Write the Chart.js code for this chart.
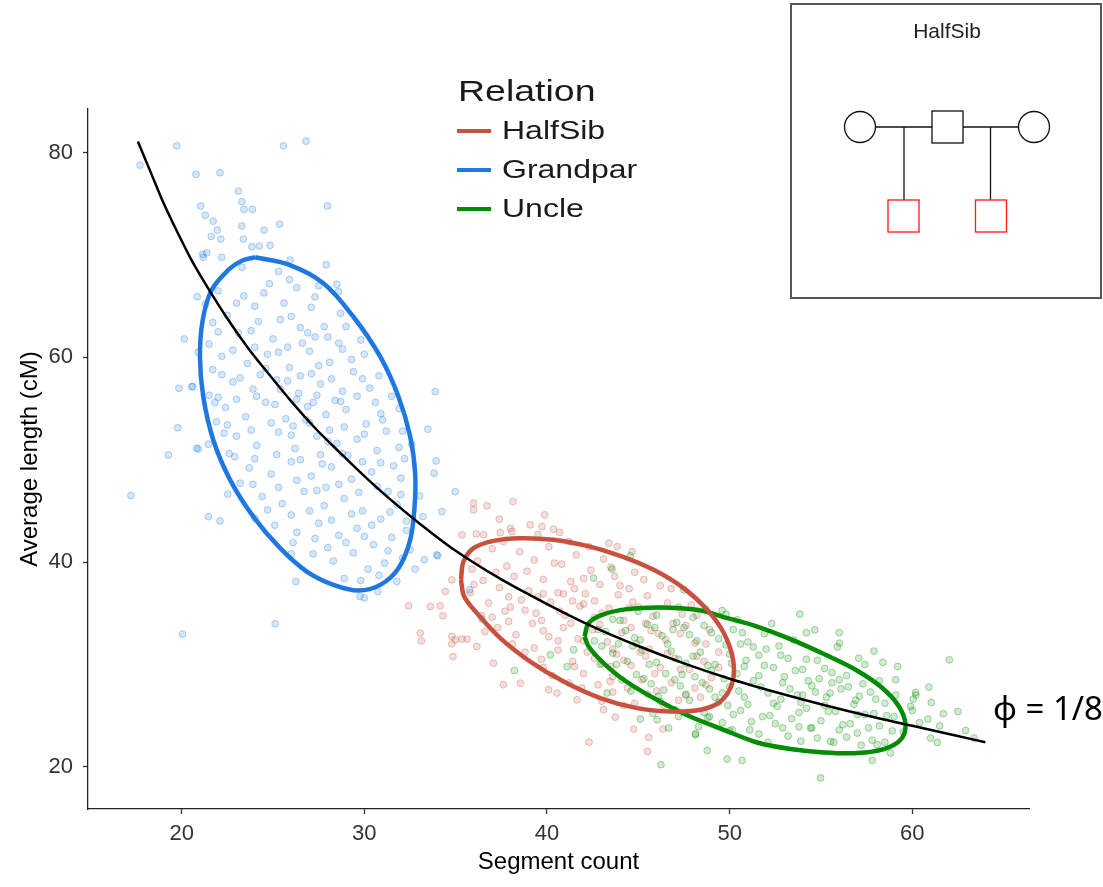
<!DOCTYPE html>
<html>
<head>
<meta charset="utf-8">
<script src="https://cdn.jsdelivr.net/npm/chart.js@4.4.0/dist/chart.umd.min.js"></script>
<style>
  html, body { margin: 0; padding: 0; background: #fff; }
</style>
</head>
<body>
<canvas id="chart" width="1103" height="887"></canvas>
<script>
// axis ticks
const xTicks = [20, 30, 40, 50, 60];
const yTicks = [20, 40, 60, 80];
const relations = ['HalfSib', 'Grandpar', 'Uncle'];

// scatter points: [segment count, average length]
const grandparPts = [
  [17.72,78.79],[19.73,80.67],[25.57,80.67],[26.81,81.13],[20.78,77.88],[22.10,78.04],[23.10,76.25],[23.29,75.21],
  [23.41,74.46],[23.87,74.46],[21.04,74.79],[21.29,73.88],[21.72,73.32],[21.95,72.44],[21.62,71.82],[22.14,71.56],
  [23.29,72.83],[24.51,72.44],[25.35,73.03],[27.98,74.79],[23.38,71.56],[23.84,70.81],[24.25,70.88],[24.84,70.95],
  [21.15,70.07],[21.37,70.22],[27.91,69.05],[25.93,69.51],[28.49,67.14],[28.58,66.42],[20.85,65.93],[22.19,69.78],
  [21.18,69.78],[20.14,61.80],[20.60,57.14],[19.85,56.98],[20.55,57.14],[21.82,55.58],[19.78,53.13],[20.91,51.05],
  [21.46,51.51],[20.82,51.12],[19.27,50.47],[22.32,52.59],[22.52,46.63],[21.46,44.44],[22.10,44.02],[17.22,46.50],
  [20.05,32.96],[25.12,33.96],
  [33.88,56.65],[33.48,52.98],[33.93,49.88],[33.82,48.68],[33.02,46.46],[33.21,44.44],[33.97,40.70],[32.78,39.31],
  [34.98,46.88],[34.25,44.93],[34.01,40.61],[33.28,40.22],[35.76,37.29],[36.44,34.42],
  [29.77,36.63],[26.25,38.10],[31.78,38.10],[30.74,37.12],
  [22.5,64.1],[23.4,66.0],[24.8,67.2],[25.6,65.3],[26.3,66.8],[27.1,64.9],[23.1,62.4],[24.2,63.5],[25.0,61.8],
  [26.5,62.9],[27.8,63.0],[28.6,61.4],[22.2,60.1],[23.6,59.4],[24.7,60.3],[25.9,59.0],[27.0,60.6],[28.1,59.5],
  [29.3,59.8],[22.8,57.6],[23.9,56.9],[25.2,57.8],[26.4,56.5],[27.6,57.4],[28.8,56.7],[29.9,57.9],[30.6,55.6],
  [22.4,55.1],[23.5,54.2],[24.6,55.6],[25.7,54.0],[26.9,55.2],[27.9,54.4],[29.0,54.9],[30.1,53.5],[31.2,52.8],
  [23.0,52.3],[24.1,51.4],[25.3,52.7],[26.2,51.1],[27.4,52.3],[28.5,51.6],[29.6,52.0],[30.7,50.9],[31.6,49.4],
  [23.7,49.2],[24.9,48.6],[26.0,49.8],[27.1,48.4],[28.2,49.3],[29.3,48.1],[30.4,48.8],[31.3,46.9],[24.4,46.4],
  [25.5,45.7],[26.7,46.9],[27.8,45.5],[28.9,46.2],[29.9,45.0],[30.9,44.2],[31.8,45.6],[25.1,43.6],[26.3,42.9],
  [27.5,43.8],[28.6,42.6],[29.6,43.3],[30.5,41.7],[31.5,42.4],[27.2,40.8],[28.3,40.1],[29.4,40.9],[30.2,39.3],
  [31.1,39.9],[28.9,38.4],[26.8,53.9],[27.2,55.6],[28.1,52.9],[27.6,50.5],[26.5,58.2],[25.4,56.9],[28.4,55.8],
  [27.9,47.3],[29.1,50.4],[26.1,53.3],[24.3,58.3],[25.8,61.0],[27.3,62.0],[24.0,65.0],[26.0,64.0],[22.0,62.5],
  [21.7,58.8],[21.5,56.3],[22.6,50.6],[23.2,47.7],[32.0,48.2],[32.3,44.0],[32.6,51.5],[31.9,55.0],[30.8,58.2],
  [29.8,61.7],[28.7,64.3],[27.5,67.0],[25.3,68.4],[23.3,68.8],[21.3,65.2],[20.9,60.5],[21.9,53.7],[24.0,44.3],
  [26.0,40.8],[32.5,41.2],[30.0,36.5],
  [22.0,66.5],[24.5,66.3],[25.9,67.6],[27.3,65.9],[23.0,65.3],[21.7,63.4],[23.8,62.6],[25.4,63.7],[26.9,62.4],
  [28.0,62.0],[29.0,63.0],[21.5,61.3],[22.8,60.7],[24.0,61.0],[25.3,60.5],[26.6,61.4],[27.5,59.2],[28.8,60.8],
  [30.0,60.3],[22.2,58.3],[23.2,58.0],[24.6,58.9],[25.8,57.7],[27.1,58.4],[28.2,57.9],[29.4,58.6],[30.3,57.0],
  [22.0,56.1],[23.0,55.9],[24.1,56.2],[25.1,55.4],[26.3,55.9],[27.4,56.3],[28.7,55.7],[29.6,56.2],[30.9,54.5],
  [31.5,56.2],[22.5,53.4],[23.8,52.9],[24.9,53.6],[26.0,52.4],[27.0,53.6],[28.0,51.8],[28.9,53.2],[30.0,52.5],
  [31.0,53.9],[32.1,52.8],[31.9,51.2],[22.9,50.3],[24.0,50.1],[25.2,50.5],[26.5,50.0],[27.7,49.6],[28.8,50.6],
  [29.9,49.8],[30.9,49.7],[32.2,50.1],[23.9,47.6],[25.3,47.3],[26.3,48.0],[27.4,47.0],[28.6,47.6],[29.7,46.8],
  [30.7,47.4],[32.0,46.6],[24.7,45.1],[26.0,44.6],[27.0,45.0],[28.2,44.1],[29.3,44.7],[30.4,43.6],[31.4,44.9],
  [32.3,43.1],[26.1,41.9],[27.3,42.3],[28.0,41.4],[29.0,41.9],[30.0,42.5],[31.3,41.1],[32.1,40.4],[29.8,38.2],
  [30.8,38.7]
];

const halfSibPts = [
  [35.98,45.75],[36.71,45.49],[38.14,45.91],[35.98,45.10],[39.87,44.61],[37.39,44.19],[39.08,43.63],[39.73,43.47],
  [40.36,43.21],[37.44,42.88],[38.08,42.98],[35.34,42.66],[36.13,42.75],[36.53,42.66],[34.79,38.26],[34.43,37.12],
  [33.61,35.65],[34.15,35.72],[34.30,34.75],[33.06,33.06],[34.79,32.73],[34.79,32.01],[35.34,32.47],[35.62,32.47],
  [34.85,30.77],[36.16,31.75],[37.07,30.13],[37.62,28.01],[38.54,28.17],[40.09,27.52],[40.55,27.20],[41.64,26.54],
  [43.10,25.57],[43.74,24.85],[43.46,28.33],[44.75,23.68],[45.57,22.86],[46.35,23.68],[43.38,41.85],[43.84,41.51],
  [44.66,41.03],[32.42,35.72],[33.12,32.30],[34.98,32.40],[45.5,21.5],[42.3,22.4],
  [36.2,40.1],[37.0,41.3],[37.8,39.6],[38.5,41.0],[39.3,40.2],[40.1,41.5],[40.8,39.8],[41.6,40.7],[42.4,39.2],
  [43.1,40.3],[36.5,38.2],[37.4,37.5],[38.2,38.6],[39.0,37.2],[39.8,38.3],[40.6,37.0],[41.3,38.1],[42.1,36.9],
  [42.9,37.8],[43.7,38.6],[44.5,37.4],[45.3,38.3],[36.8,36.0],[37.7,35.2],[38.6,36.3],[39.4,35.0],[40.2,36.1],
  [41.0,34.8],[41.8,35.7],[42.6,34.6],[43.4,35.5],[44.2,34.3],[45.0,35.6],[45.8,34.7],[46.6,36.0],[47.4,34.9],
  [37.3,33.6],[38.3,32.9],[39.2,34.0],[40.1,32.7],[40.9,33.6],[41.7,32.5],[42.5,33.4],[43.3,32.2],[44.1,33.1],
  [44.9,32.0],[45.7,33.3],[46.5,32.4],[47.3,33.0],[48.1,32.1],[48.9,33.4],[38.8,31.2],[39.7,30.5],[40.6,31.4],
  [41.4,30.3],[42.2,31.2],[43.0,30.1],[43.8,31.0],[44.6,29.9],[45.4,30.8],[46.2,29.7],[47.0,30.6],[47.8,29.5],
  [48.6,30.3],[40.3,28.9],[41.2,28.2],[42.0,29.1],[42.8,28.0],[43.6,28.8],[44.4,27.7],[45.2,28.5],[46.0,27.4],
  [46.8,28.2],[47.6,27.1],[43.0,26.4],[44.8,26.2],[46.4,26.0],[48.4,26.8],[38.0,43.3],[39.5,42.7],[41.2,42.0],
  [35.8,37.0],[36.4,34.8],[42.0,35.9],[43.9,36.8],[41.5,37.4],[40.7,35.2],[44.7,36.1],[45.6,31.5],[43.5,29.8],
  [39.8,33.3],[38.0,35.6],[49.4,31.2],[49.0,28.7],[46.8,37.4],[47.9,35.8],
  [37.6,42.0],[40.7,42.9],[42.3,41.5],[35.9,39.3],[37.2,39.0],[38.9,39.1],[40.4,39.9],[42.0,38.4],[43.5,39.5],
  [44.8,39.0],[36.0,37.8],[37.9,36.6],[39.5,36.6],[40.9,36.9],[42.6,36.2],[44.0,37.7],[45.5,36.7],[46.2,37.7],
  [37.0,34.6],[38.8,35.3],[39.8,36.9],[41.4,36.2],[43.0,35.0],[44.5,35.5],[45.4,34.0],[46.9,34.0],[48.2,34.8],
  [36.6,33.2],[37.9,34.2],[39.7,34.3],[41.3,34.0],[42.9,33.9],[44.6,33.6],[46.1,33.0],[47.6,33.8],[48.7,32.0],
  [38.1,32.0],[39.3,31.6],[40.6,32.3],[42.0,32.3],[43.6,31.5],[45.1,31.2],[46.6,31.1],[48.2,30.8],[49.4,29.7],
  [39.8,29.7],[41.5,29.8],[42.6,30.6],[44.2,30.4],[45.9,29.1],[47.3,29.5],[48.7,28.0],[41.9,27.7],[43.6,27.3],
  [45.5,27.1],[47.2,26.5],[48.1,27.7],[44.2,26.0]
];

const unclePts = [
  [53.84,34.91],[54.66,33.38],[56.02,32.08],[57.07,30.61],[58.39,30.19],[62.03,30.45],[59.09,28.50],[60.91,27.78],
  [60.18,27.26],[60.05,26.61],[61.04,26.28],[61.70,25.18],[60.85,24.66],[59.91,25.89],[61.37,22.37],[62.92,23.54],
  [63.38,22.80],[58.81,21.34],[57.81,20.62],[54.98,18.90],[50.68,20.62],[49.86,20.75],[48.77,21.59],[48.13,23.22],
  [54.43,23.78],[55.52,22.47],[56.99,23.29],[58.08,22.15],[50.14,23.61],[46.24,20.20],[38.22,29.40],[44.56,40.61],
  [43.56,39.31],[42.55,38.43],[47.49,37.29],[48.67,35.40],[49.59,35.27],[50.41,34.36],[41.10,29.79],[41.46,31.43],
  [40.18,30.94],[43.29,27.20],[45.11,24.66],[46.03,24.59],[46.66,23.78],[48.13,23.12],
  [43.2,33.2],[44.0,34.3],[44.8,32.6],[45.5,33.9],[46.3,32.8],[47.1,34.1],[47.8,32.9],[48.6,33.8],[49.4,32.5],
  [50.2,33.4],[51.0,32.2],[51.9,33.0],[52.7,31.8],[53.5,32.4],[43.6,31.1],[44.4,30.3],[45.2,31.4],[46.0,30.2],
  [46.8,31.3],[47.6,30.1],[48.4,31.2],[49.2,30.0],[50.0,31.0],[50.8,29.8],[51.6,30.9],[52.4,29.7],[53.2,30.6],
  [54.0,29.5],[54.8,30.4],[55.6,29.2],[56.4,28.9],[44.9,29.0],[45.7,28.1],[46.5,29.1],[47.3,27.9],[48.1,28.8],
  [48.9,27.6],[49.7,28.6],[50.5,27.4],[51.3,28.4],[52.1,27.2],[52.9,28.2],[53.7,27.0],[54.5,27.9],[55.3,26.8],
  [56.1,27.6],[56.9,26.5],[57.7,27.3],[58.5,26.2],[46.2,26.4],[47.0,25.6],[47.8,26.5],[48.6,25.3],[49.4,26.3],
  [50.2,25.1],[51.0,26.1],[51.8,24.9],[52.6,25.9],[53.4,24.7],[54.2,25.7],[55.0,24.5],[55.8,25.4],[56.6,24.2],
  [57.4,25.1],[58.2,24.0],[59.0,24.9],[50.0,23.5],[51.6,23.2],[53.2,23.0],[54.8,22.8],[56.4,22.9],[57.8,22.6],
  [52.3,34.0],[54.2,33.1],[55.9,31.7],[57.4,30.0],[58.2,28.4],[59.1,27.0],[45.0,35.2],[47.2,35.6],[49.8,34.9],
  [44.6,27.4],[45.8,25.2],[48.3,23.9],[49.0,29.4],[50.4,29.1],[51.7,27.8],[52.8,26.6],[53.9,26.3],[54.7,27.3],
  [55.6,28.2],[50.9,30.4],[49.6,27.2],[48.0,30.8],[47.4,29.0],[46.4,27.5],[52.0,31.5],[53.0,28.8],[55.2,26.0],
  [56.8,26.1],[57.9,25.2],[60.0,25.5],[59.5,23.4],[43.9,32.0],[42.6,32.3],[42.9,30.0],[44.1,28.5],[48.8,24.8],
  [51.2,24.4],[53.8,23.9],[56.0,23.6],[46.9,33.4],[50.6,32.0],[44.7,31.8],[49.9,26.0],[54.3,28.4],[52.5,24.2],
  [43.6,34.4],[46.0,34.8],[48.0,34.6],[42.8,33.4],[44.3,33.3],[45.9,33.6],[47.5,33.6],[49.0,33.1],[50.7,33.1],
  [43.0,31.8],[45.1,32.4],[46.6,32.0],[48.2,32.3],[49.8,31.9],[51.3,31.7],[52.8,30.9],[54.2,30.5],[43.8,30.0],
  [45.6,30.0],[47.2,30.5],[48.8,29.9],[50.1,30.1],[51.9,29.9],[53.6,29.4],[55.2,29.6],[56.0,28.5],[45.3,28.6],
  [47.0,28.5],[48.5,28.2],[50.0,27.8],[51.6,28.9],[53.3,27.6],[54.9,28.6],[56.5,27.8],[57.3,28.1],[46.1,26.9],
  [47.6,27.0],[49.2,26.8],[50.8,26.8],[52.4,26.2],[54.0,27.0],[55.5,27.2],[57.1,26.9],[58.0,26.6],[47.2,24.9],
  [48.9,24.9],[50.6,25.5],[52.2,25.0],[53.8,25.3],[55.4,25.4],[57.0,25.1],[58.6,25.0],[49.6,24.3],[51.1,23.6],
  [52.9,23.8],[54.5,23.8],[56.2,24.1],[57.6,23.8],[58.9,23.5],[52.1,22.4],[53.9,22.5],[55.7,22.4],[57.2,22.1],
  [58.5,22.4],[60.4,24.3],[61.5,24.0],[60.2,27.0],[61.0,22.8],[62.5,25.4],[59.2,29.8],[57.9,31.3],[56.0,33.1]
];

// confidence ellipses, traced round the outline
const grandparEllipse = [
  [24.02,69.78],[25.93,69.02],[27.76,67.24],[29.40,63.97],[30.87,60.07],[31.87,56.16],[32.51,52.26],[32.78,48.68],
  [32.75,45.42],[32.51,42.17],[31.87,39.40],[30.87,37.77],[29.68,37.22],[28.31,37.77],[26.85,39.07],[25.39,41.36],
  [23.92,44.44],[22.65,48.03],[21.73,51.93],[21.18,56.16],[21.00,60.07],[21.15,63.65],[21.64,66.58],[22.55,68.54],
  [23.29,69.45]
];
const halfSibEllipse = [
  [35.29,38.26],[35.43,40.05],[35.98,41.36],[37.07,42.07],[38.54,42.33],[40.36,42.17],[42.19,41.58],[44.01,40.61],
  [45.84,39.24],[47.48,37.45],[48.77,35.33],[49.68,33.06],[50.19,30.45],[50.14,28.17],[49.50,26.38],[48.40,25.57],
  [46.76,25.40],[44.93,25.73],[42.92,26.71],[40.91,28.33],[39.08,30.28],[37.44,32.57],[36.16,35.01],[35.47,36.63]
];
const uncleEllipse = [
  [42.06,32.72],[42.28,34.03],[43.01,34.84],[44.38,35.40],[46.21,35.56],[48.22,35.33],[49.68,34.62],[51.51,33.70],
  [53.33,32.47],[55.16,31.01],[56.99,29.38],[58.36,27.69],[59.27,25.89],[59.63,24.10],[59.36,22.64],[58.44,21.73],
  [56.99,21.34],[55.16,21.40],[53.33,21.73],[51.51,22.37],[49.68,23.61],[47.74,24.98],[45.84,26.71],[44.20,28.50],
  [43.01,30.28],[42.28,31.75]
];

// the phi = 1/8 curve
const phiCurve = [
  [17.6,81.1],[18.3,78.1],[19.0,75.1],[19.8,72.1],[20.6,69.3],[21.5,66.6],[22.5,63.8],[23.6,61.0],[24.8,58.3],
  [26.0,55.7],[27.3,53.1],[28.6,50.8],[30.0,48.4],[31.5,46.0],[33.0,43.8],[35.0,41.1],[37.5,38.3],[40.0,35.9],
  [42.5,33.7],[45.0,31.8],[47.5,30.1],[50.0,28.6],[52.5,27.3],[55.0,26.1],[57.5,25.0],[60.0,24.0],[62.0,23.2],
  [64.0,22.4]
];

const colors = { HalfSib: '#c8503f', Grandpar: '#1f78e2', Uncle: '#008c00' };
const rgba = (hex, a) => {
  const n = parseInt(hex.slice(1), 16);
  return 'rgba(' + (n >> 16) + ',' + ((n >> 8) & 255) + ',' + (n & 255) + ',' + a + ')';
};
const toXY = a => a.map(p => ({ x: p[0], y: p[1] }));
const closed = a => toXY(a.concat([a[0]]));

function pointSet(label, pts, order) {
  return {
    label: label, data: toXY(pts), order: order,
    backgroundColor: rgba(colors[label], 0.18),
    borderColor: rgba(colors[label], 0.33),
    borderWidth: 1, pointRadius: 3.4, showLine: false
  };
}
function ellipseSet(label, pts) {
  return {
    label: label + ' ellipse', data: closed(pts), order: 1,
    showLine: true, borderColor: colors[label], borderWidth: 4.5,
    pointRadius: 0, tension: 0.35, fill: false
  };
}

const FONT = '"Liberation Sans", Arial, sans-serif';

const decor = {
  id: 'decor',
  afterDraw(chart) {
    const ctx = chart.ctx;
    ctx.save();
    // legend
    ctx.fillStyle = '#1a1a1a';
    ctx.textBaseline = 'alphabetic';
    ctx.save();
    ctx.translate(458, 101);
    ctx.scale(1.25, 1);
    ctx.font = '30px ' + FONT;
    ctx.fillText('Relation', 0, 0);
    ctx.restore();
    const rowY = [131, 170, 209];
    relations.forEach((r, i) => {
      ctx.strokeStyle = colors[r];
      ctx.lineWidth = 4;
      ctx.beginPath();
      ctx.moveTo(457, rowY[i]);
      ctx.lineTo(491, rowY[i]);
      ctx.stroke();
      ctx.save();
      ctx.translate(502, rowY[i]);
      ctx.scale(1.28, 1);
      ctx.font = '25px ' + FONT;
      ctx.textBaseline = 'middle';
      ctx.fillStyle = '#1a1a1a';
      ctx.fillText(r, 0, 1);
      ctx.restore();
    });

    // inset pedigree
    ctx.fillStyle = '#fff';
    ctx.fillRect(791, 4, 310, 294);
    ctx.strokeStyle = '#555';
    ctx.lineWidth = 2;
    ctx.strokeRect(791, 4, 310, 294);
    ctx.fillStyle = '#222';
    ctx.font = '21px ' + FONT;
    ctx.textAlign = 'center';
    ctx.fillText('HalfSib', 947, 38);
    ctx.strokeStyle = '#111';
    ctx.lineWidth = 1.3;
    ctx.beginPath(); ctx.arc(860, 127, 15.5, 0, Math.PI * 2); ctx.stroke();
    ctx.beginPath(); ctx.arc(1034, 127, 15.5, 0, Math.PI * 2); ctx.stroke();
    ctx.strokeRect(932, 111, 31, 32);
    ctx.beginPath();
    ctx.moveTo(875.5, 127); ctx.lineTo(932, 127);
    ctx.moveTo(963, 127); ctx.lineTo(1018.5, 127);
    ctx.moveTo(904, 127); ctx.lineTo(904, 200);
    ctx.moveTo(990.5, 127); ctx.lineTo(990.5, 200);
    ctx.stroke();
    ctx.strokeStyle = '#ff1a1a';
    ctx.strokeRect(888, 200, 31, 32);
    ctx.strokeRect(975.5, 200, 31, 32);

    // annotation
    ctx.fillStyle = '#000';
    ctx.textAlign = 'left';
    ctx.font = '33px "Noto Sans", "DejaVu Sans", sans-serif';
    ctx.fillText('\u03D5 = 1/8', 993, 720);
    ctx.restore();
  }
};

new Chart(document.getElementById('chart'), {
  type: 'scatter',
  data: {
    datasets: [
      {
        label: 'phi', data: toXY(phiCurve), order: 0, showLine: true,
        borderColor: '#000', borderWidth: 2.5, pointRadius: 0,
        cubicInterpolationMode: 'monotone', fill: false
      },
      ellipseSet('HalfSib', halfSibEllipse),
      ellipseSet('Grandpar', grandparEllipse),
      ellipseSet('Uncle', uncleEllipse),
      pointSet('Uncle', unclePts, 2),
      pointSet('HalfSib', halfSibPts, 3),
      pointSet('Grandpar', grandparPts, 4)
    ]
  },
  options: {
    responsive: false,
    animation: false,
    layout: { padding: { top: 109, right: 74, left: 0, bottom: 0 } },
    plugins: { legend: { display: false }, tooltip: { enabled: false } },
    scales: {
      x: {
        min: 14.87, max: 66.39,
        afterFit: s => { s.height = 78; },
        afterBuildTicks: s => { s.ticks = xTicks.map(v => ({ value: v })); },
        grid: { drawOnChartArea: false, drawTicks: true, tickLength: 5, tickColor: '#333', tickWidth: 1.3 },
        border: { display: true, color: '#222', width: 1.3 },
        ticks: { color: '#333', font: { family: FONT, size: 22 }, padding: 7, maxRotation: 0 },
        title: { display: true, text: 'Segment count', color: '#000', font: { family: FONT, size: 24 }, padding: { top: 0, bottom: 10 } }
      },
      y: {
        min: 15.87, max: 84.27,
        afterFit: s => { s.width = 88; },
        afterBuildTicks: s => { s.ticks = yTicks.map(v => ({ value: v })); },
        grid: { drawOnChartArea: false, drawTicks: true, tickLength: 5, tickColor: '#333', tickWidth: 1.3 },
        border: { display: true, color: '#222', width: 1.3 },
        ticks: { color: '#333', font: { family: FONT, size: 22 }, padding: 10 },
        title: { display: true, text: 'Average length (cM)', color: '#000', font: { family: FONT, size: 24 }, padding: { top: 16, bottom: 0 } }
      }
    }
  },
  plugins: [decor]
});
</script>
</body>
</html>
